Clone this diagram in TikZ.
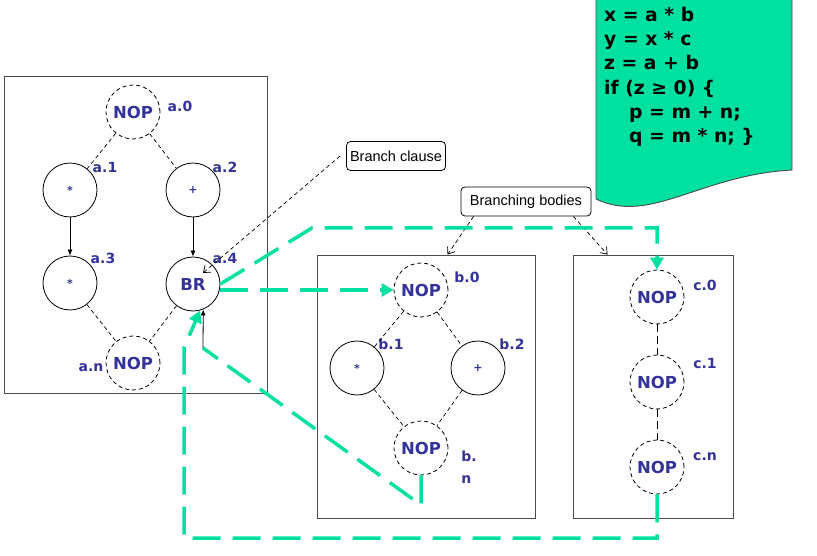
\documentclass[tikz,border=0pt]{standalone}
\usepackage{fontspec}
\newfontfamily\verdana{DejaVu Sans}
\newfontfamily\tahoma{Liberation Sans}
\usetikzlibrary{arrows.meta}
\definecolor{navy}{RGB}{51,51,153}
\definecolor{mint}{RGB}{0,224,160}

\begin{document}
\begin{tikzpicture}[x=1pt,y=-1pt,
  frame/.style={draw=black!70,line width=0.9pt,inner sep=0},
  op/.style={circle,draw,line width=0.8pt,minimum size=54,inner sep=0,
    text=navy,font=\verdana\bfseries\fontsize{16.5}{16.5}\selectfont},
  sym/.style={op,font=\verdana\bfseries\fontsize{11}{11}\selectfont},
  nop/.style={op,dash pattern=on 4pt off 3pt},
  tag/.style={text=navy,align=left,inner sep=0,
    font=\verdana\bfseries\fontsize{14}{22}\selectfont},
  code/.style={align=left,inner sep=0,
    font=\verdana\bfseries\fontsize{18.8}{24.2}\selectfont},
  note/.style={draw,rounded corners=4pt,line width=0.8pt,inner sep=0,
    minimum height=29,font=\tahoma\fontsize{14.5}{15}\selectfont},
  tie/.style={dash pattern=on 4pt off 3pt,line width=0.7pt},
  flow/.style={draw=mint,line width=3.5pt,dash pattern=on 28pt off 12pt,
    -{Triangle[length=12pt,width=13pt]}}]
\useasboundingbox (0,0) rectangle (817,556);
% frames of the three graphs
\node[frame,minimum width=263,minimum height=317] (boxa) at (135.5,234.5) {};
\node[frame,minimum width=218,minimum height=263] (boxb) at (426,386.5) {};
\node[frame,minimum width=160,minimum height=263] (boxc) at (653,386.5) {};
% source code sheet
\fill[mint,draw=black!70,line width=0.9pt] (596,-5) -- (596,199)
  .. controls (650,225) and (700,175) .. (792,170) -- (792,-5);
\node[code,anchor=north west] (code) at (604,7)
  {x = a * b\\y = x * c\\z = a + b\\if (z ≥ 0) \{\\
   \hspace*{25pt}p = m + n;\\\hspace*{25pt}q = m * n; \}};
% graph a
\node[nop] (a0) at (133,112) {NOP};
\node[sym] (a1) at (70,190) {*};
\node[sym] (a2) at (193,190) {+};
\node[sym] (a3) at (70,283) {*};
\node[op] (a4) at (193,284) {BR};
\node[nop] (an) at (133,363) {NOP};
\node[tag] (la0) at (180,106) {a.0};
\node[tag] (la1) at (105,167) {a.1};
\node[tag] (la2) at (225,167) {a.2};
\node[tag] (la3) at (103,258) {a.3};
\node[tag] (la4) at (225,258) {a.4};
\node[tag] (lan) at (91,368) {a.n};
\draw[tie] (a0) -- (a1);
\draw[tie] (a0) -- (a2);
\draw[tie] (a3) -- (an);
\draw[tie] (a4) -- (an);
\draw[-{Latex[length=6pt,width=5pt]},line width=0.8pt] (a1) -- (a3);
\draw[-{Latex[length=6pt,width=5pt]},line width=0.8pt] (a2) -- (a4);
% graph b
\node[nop] (b0) at (421,290) {NOP};
\node[sym] (b1) at (357,368) {*};
\node[sym] (b2) at (478,368) {+};
\node[nop] (bn) at (421,448) {NOP};
\node[tag] (lb0) at (467,277) {b.0};
\node[tag] (lb1) at (391,344) {b.1};
\node[tag] (lb2) at (512,344) {b.2};
\node[tag] (lbn) at (469,467) {b.\\n};
\draw[tie] (b0) -- (b1);
\draw[tie] (b0) -- (b2);
\draw[tie] (b1) -- (bn);
\draw[tie] (b2) -- (bn);
% graph c
\node[nop] (c0) at (657,297) {NOP};
\node[nop] (c1) at (657,382) {NOP};
\node[nop] (cn) at (657,467) {NOP};
\node[tag] (lc0) at (705,285) {c.0};
\node[tag] (lc1) at (705,363) {c.1};
\node[tag] (lcn) at (705,457) {c.n};
\draw[dash pattern=on 8pt off 4pt,line width=0.7pt] (c0) -- (c1);
\draw[dash pattern=on 8pt off 4pt,line width=0.7pt] (c1) -- (cn);
% callouts
\node[note,minimum width=99] (clause) at (396,156) {Branch clause};
\node[note,minimum width=130] (bodies) at (526,201.5) {Branching bodies};
\coordinate (brtip) at (203,273);
\draw[tie,-{Straight Barb[length=6pt,width=9pt]}] ([xshift=-6]clause.west) -- (brtip);
\draw[tie,-{Straight Barb[length=6pt,width=9pt]}]
  ([xshift=13]bodies.south west) -- ([xshift=131]boxb.north west);
\draw[tie,-{Straight Barb[length=6pt,width=9pt]}]
  ([xshift=-18]bodies.south east) -- ([xshift=35]boxc.north west);
% control flow
\coordinate (bendA) at (312,228);
\coordinate (bendB) at (421,505);
\coordinate (bendC) at (203,348);
\coordinate (bendD) at (657,538);
\coordinate (bendE) at (184,348);
\draw[flow] (a4.east |- b0.west) -- (b0.west);
\draw[flow] (a4.east) -- (bendA) -| (c0.north);
\draw[flow,-] (bn.south) -- (bendB) -- (bendC);
\draw[-{Latex[length=6pt,width=5pt]},line width=0.8pt] (bendC) -- (a4.-68);
\draw[flow] (cn.south) -- (bendD) -| (bendE) -- (a4.-75);
\end{tikzpicture}
\end{document}
